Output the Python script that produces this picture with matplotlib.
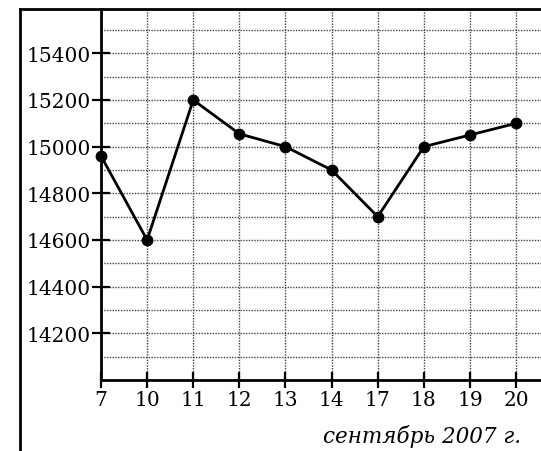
import numpy as np
import matplotlib
matplotlib.use("Agg")
import matplotlib.pyplot as plt
from matplotlib.lines import Line2D
from matplotlib.ticker import MultipleLocator

# days of September 2007 and values
days = ["7", "10", "11", "12", "13", "14", "17", "18", "19", "20"]
values = [14960, 14600, 15200, 15055, 15000, 14900, 14700, 15000, 15050, 15100]
y_ticks = [14200, 14400, 14600, 14800, 15000, 15200, 15400]

plt.rcParams['font.family'] = ['DejaVu Serif']

W, H = 541, 452
fig = plt.figure(figsize=(W / 100, H / 100), dpi=100)
ax = fig.add_axes([101 / W, 1 - 381 / H, (W - 101) / W, (381 - 10) / H])

x = np.arange(len(days))
ax.plot(x, values, color='black', lw=2, marker='o', markersize=7.5, zorder=3, clip_on=False)

ax.set_xlim(0, 9.54)
ax.set_ylim(14000, 15590)
ax.set_xticks(x)
ax.set_xticklabels(days)
ax.set_yticks(y_ticks)
ax.yaxis.set_minor_locator(MultipleLocator(100))

ax.grid(True, which='major', axis='both', color='#444444', ls=(0, (1, 1)), lw=1)
ax.grid(True, which='minor', axis='y', color='#444444', ls=(0, (1, 1)), lw=1)

for s in ['top', 'right']:
    ax.spines[s].set_visible(False)
for s in ['left', 'bottom']:
    ax.spines[s].set_linewidth(2)

ax.tick_params(axis='y', which='major', direction='inout', length=13, width=1.6, labelsize=14.5, pad=1)
ax.tick_params(axis='x', which='major', direction='inout', length=12, width=1.6, labelsize=14.5, pad=1)
ax.tick_params(axis='y', which='minor', length=0)

# outer frame (left and top edges)
fig.add_artist(Line2D([20 / W, 20 / W], [0, 1 - 10 / H], color='black', lw=2))
fig.add_artist(Line2D([20 / W, 1], [1 - 10 / H, 1 - 10 / H], color='black', lw=2))

fig.text(521 / W, 1 - 437 / H, "сентябрь 2007 г.", fontsize=15.5, style='italic',
         ha='right', va='center')

fig.savefig("out.png", dpi=100)
